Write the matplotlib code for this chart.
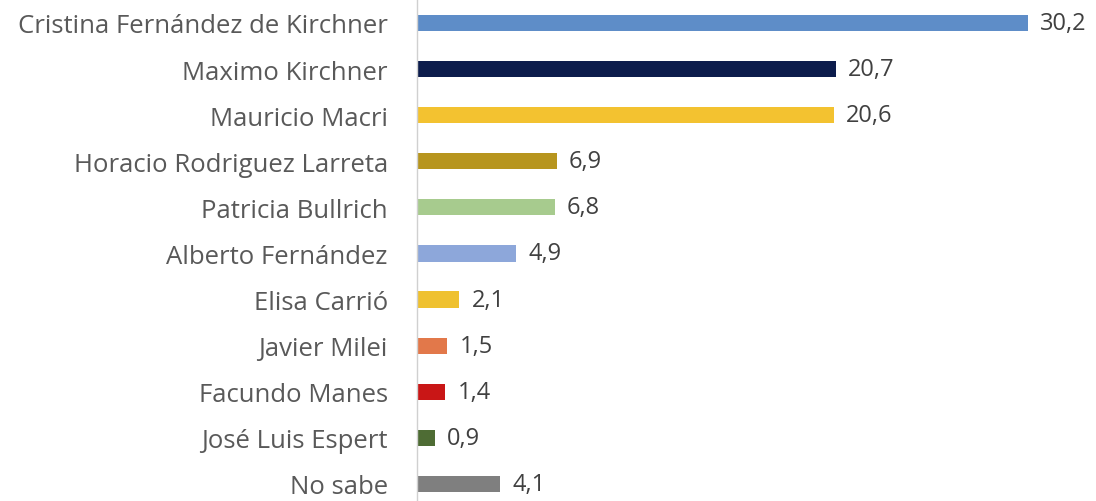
import matplotlib.pyplot as plt
import numpy as np

nombres = ["Cristina Fernández de Kirchner", "Maximo Kirchner", "Mauricio Macri",
           "Horacio Rodriguez Larreta", "Patricia Bullrich", "Alberto Fernández",
           "Elisa Carrió", "Javier Milei", "Facundo Manes", "José Luis Espert", "No sabe"]
valores = [30.2, 20.7, 20.6, 6.9, 6.8, 4.9, 2.1, 1.5, 1.4, 0.9, 4.1]
etiquetas = ["30,2", "20,7", "20,6", "6,9", "6,8", "4,9", "2,1", "1,5", "1,4", "0,9", "4,1"]
colores = ["#5E8DC8", "#0C1C4C", "#F3C230", "#B7951E", "#A7CB8E", "#8DA7DA",
           "#EFC12F", "#E2784A", "#C91616", "#4E6C34", "#7F7F7F"]

plt.rcParams['font.family'] = ['Open Sans', 'DejaVu Sans']

fig = plt.figure(figsize=(10.96, 5.02), dpi=100)
ax = fig.add_axes([417 / 1096, 0, 1 - 417 / 1096, 1])

y = np.arange(len(nombres))
ax.barh(y, valores, height=0.35, color=colores)

for yi, v, t in zip(y, valores, etiquetas):
    ax.text(v + 0.6, yi, t, va='center', ha='left', fontsize=17, color='#404040')

ax.set_yticks(y)
ax.set_yticklabels(nombres, fontsize=18.5, color='#595959')
ax.tick_params(axis='y', length=0, pad=21)
ax.set_xticks([])
ax.set_xlim(0, 33.56)
ax.set_ylim(10.37, -0.52)

for s in ['top', 'right', 'bottom']:
    ax.spines[s].set_visible(False)
ax.spines['left'].set_color('#D0D0D0')
ax.spines['left'].set_linewidth(1)

fig.savefig("out.png", dpi=100)
